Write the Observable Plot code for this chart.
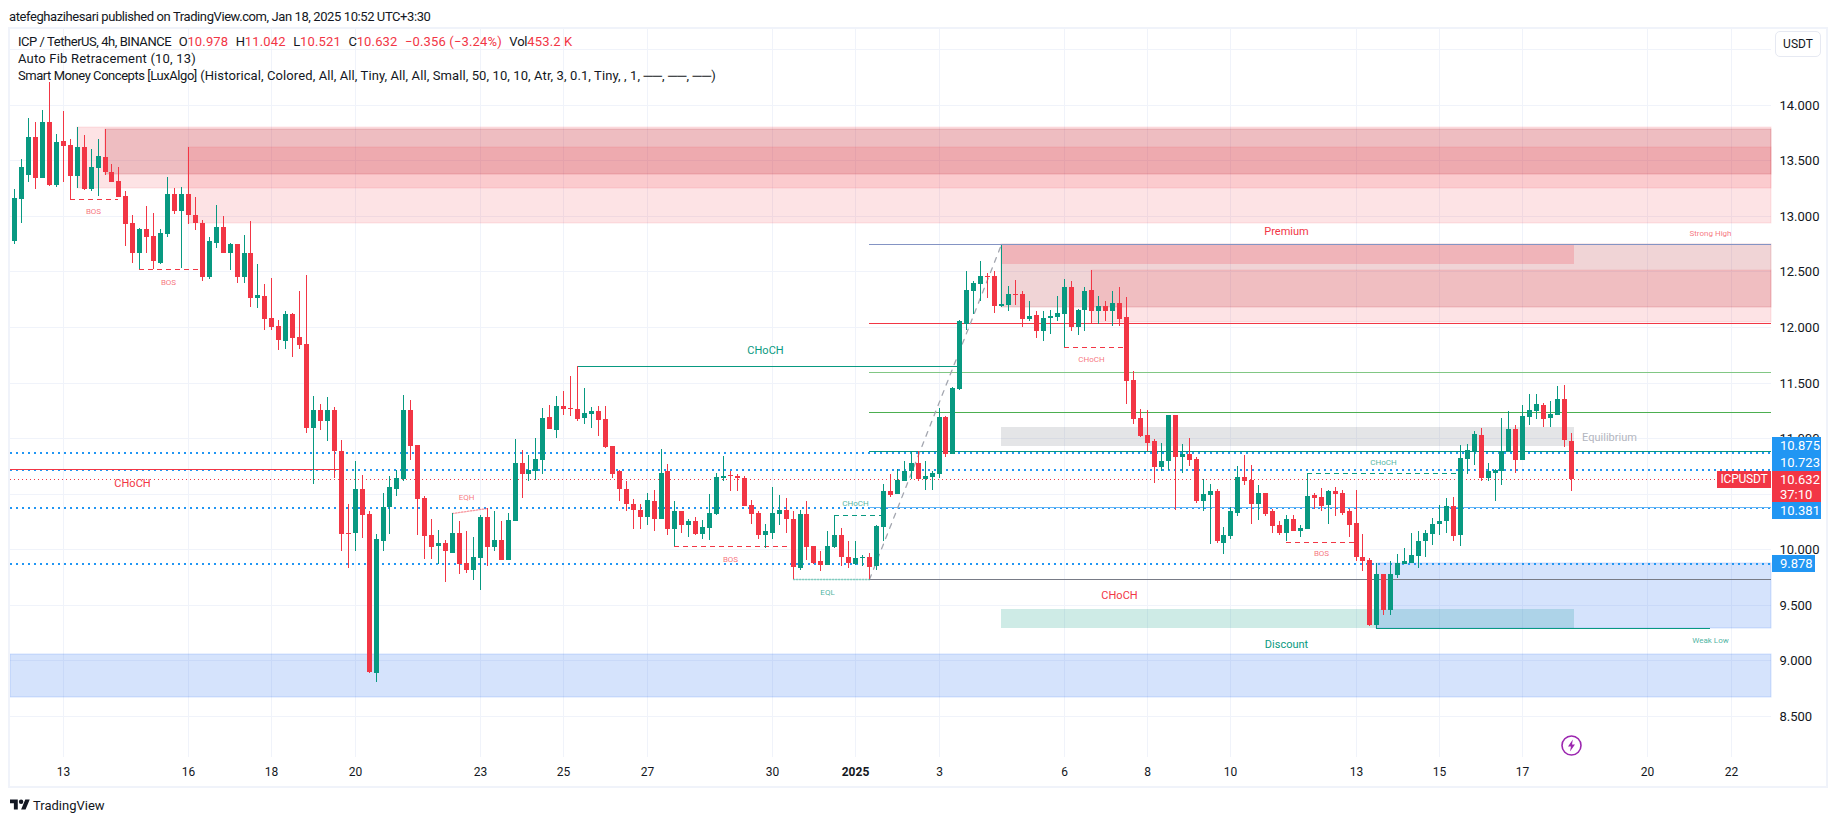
<!DOCTYPE html>
<html>
<head>
<meta charset="utf-8">
<script src="https://cdn.jsdelivr.net/npm/d3@7"></script>
<script src="https://cdn.jsdelivr.net/npm/@observablehq/plot@0.6"></script>
<style>
html,body{margin:0;padding:0;background:#fff;width:1835px;height:821px;overflow:hidden;font-family:Roboto,"Open Sans",sans-serif;color:#131722}
#head{height:27px;line-height:34px;padding-left:9px;font-size:13px;letter-spacing:-.41px;white-space:nowrap}
#wrap{position:relative;width:1835px;height:759px}
#wrap svg.plot{display:block}
#foot{height:35px;position:relative}
.frame{position:absolute;left:8px;top:0;width:1816px;height:757px;border:2px solid #f0f3fa;pointer-events:none}
.leg{position:absolute;left:18px;font-size:13px;line-height:17px;white-space:nowrap;background:transparent}
.red{color:#f23645}
.it{margin-left:7.5px;letter-spacing:-.2px}
.it b{font-weight:400;color:#f23645;letter-spacing:.15px}
.badge{position:absolute;left:1772px;width:49px;color:#fff;font-size:13px;line-height:17px;height:17px;padding-left:8px;box-sizing:border-box}
.usdt{position:absolute;left:1775px;top:4px;width:46px;height:26px;box-sizing:border-box;border:1px solid #e6e9f2;border-radius:5px;background:#fff;text-align:center;font-size:12px;line-height:24px}
</style>
</head>
<body>
<div id="head">atefeghazihesari published on TradingView.com, Jan 18, 2025 10:52 UTC+3:30</div>
<div id="wrap"></div>
<div id="foot"></div>
<script>
const opens=[12.77,13.15,13.37,13.71,13.34,13.84,13.28,13.67,13.64,13.36,
13.62,13.24,13.43,13.53,13.39,13.31,13.18,12.94,12.67,12.88,
12.82,12.58,12.84,13.20,13.04,13.20,13.01,12.94,12.45,12.76,
12.90,12.67,12.75,12.45,12.67,12.26,12.28,12.08,12.01,11.87,
12.12,11.91,11.85,11.09,11.25,11.15,11.25,10.88,10.15,10.15,
10.54,10.32,8.89,10.07,10.38,10.54,10.63,11.25,10.94,10.46,
10.13,10.03,10.06,9.97,10.15,9.88,9.81,9.92,10.29,10.02,
10.08,9.90,10.25,10.78,10.68,10.70,10.80,11.19,11.07,11.29,
11.27,11.26,11.18,11.22,11.24,11.17,10.93,10.70,10.54,10.41,
10.35,10.29,10.43,10.27,10.70,10.18,10.34,10.22,10.25,10.14,
10.19,10.32,10.64,10.67,10.66,10.64,10.40,10.33,10.13,10.15,
10.32,10.35,10.27,9.83,10.32,10.03,9.89,9.86,10.02,10.13,
9.93,9.87,9.92,9.93,9.85,10.20,10.52,10.50,10.61,10.70,
10.78,10.63,10.65,10.68,11.19,10.86,11.44,12.03,12.32,12.39,
12.46,12.46,12.19,12.20,12.30,12.30,12.07,12.11,11.96,12.08,
12.09,12.12,12.36,12.00,12.15,12.33,12.14,12.19,12.14,12.22,
12.09,11.52,11.18,11.03,10.97,10.74,10.79,11.21,10.83,10.86,
10.81,10.43,10.49,10.52,10.06,10.12,10.33,10.65,10.62,10.41,
10.51,10.34,10.22,10.15,10.27,10.16,10.18,10.49,10.47,10.40,
10.52,10.51,10.34,10.24,9.93,9.90,9.32,9.78,9.45,9.77,
9.87,9.88,9.94,10.07,10.14,10.23,10.25,10.39,10.13,10.81,
10.88,11.03,10.64,10.69,10.70,10.88,11.08,10.80,11.19,11.24,
11.30,11.18,11.21,11.35,10.978];
const closes=[13.16,13.44,13.71,13.34,13.84,13.28,13.66,13.63,13.36,13.62,
13.24,13.44,13.54,13.39,13.30,13.17,12.93,12.67,12.88,12.81,
12.59,12.85,13.20,13.04,13.20,13.01,12.94,12.45,12.77,12.90,
12.67,12.75,12.45,12.67,12.26,12.29,12.07,12.00,11.88,12.12,
11.90,11.84,11.09,11.25,11.15,11.25,10.88,10.14,10.14,10.54,
10.31,8.90,10.09,10.38,10.56,10.64,11.25,10.93,10.45,10.12,
10.02,10.06,9.98,10.15,9.87,9.81,9.93,10.29,10.02,10.08,
9.90,10.26,10.78,10.68,10.71,10.81,11.18,11.08,11.29,11.26,
11.26,11.17,11.23,11.24,11.16,10.92,10.68,10.54,10.41,10.35,
10.29,10.44,10.27,10.69,10.18,10.34,10.22,10.25,10.14,10.20,
10.33,10.65,10.66,10.66,10.64,10.39,10.32,10.13,10.16,10.33,
10.35,10.27,9.84,10.32,10.02,9.88,9.86,10.03,10.13,9.93,
9.88,9.92,9.93,9.84,10.21,10.52,10.49,10.62,10.70,10.78,
10.63,10.66,10.69,11.19,10.86,11.45,12.05,12.33,12.40,12.46,
12.45,12.19,12.21,12.30,12.29,12.07,12.10,11.96,12.08,12.10,
12.13,12.36,12.00,12.15,12.32,12.14,12.19,12.14,12.22,12.07,
11.51,11.17,11.02,10.96,10.74,10.79,11.21,10.83,10.86,10.80,
10.43,10.50,10.52,10.07,10.13,10.34,10.65,10.61,10.41,10.51,
10.32,10.21,10.15,10.27,10.16,10.19,10.48,10.46,10.39,10.52,
10.50,10.33,10.22,9.93,9.89,9.32,9.78,9.45,9.78,9.88,
9.89,9.95,10.07,10.15,10.23,10.25,10.39,10.12,10.82,10.89,
11.04,10.64,10.70,10.71,10.88,11.08,10.80,11.20,11.25,11.31,
11.17,11.22,11.35,10.98,10.632];
const highs=[13.24,13.51,13.88,13.84,13.95,14.20,13.74,13.94,13.69,13.80,
13.73,13.60,13.69,13.78,13.47,13.44,13.22,13.01,12.89,13.09,
13.03,12.88,13.35,13.25,13.26,13.62,13.17,12.96,12.81,13.10,
13.00,12.76,12.75,12.83,12.95,12.57,12.39,12.44,12.06,12.14,
12.13,12.32,12.47,11.38,11.31,11.37,11.28,10.98,10.41,10.79,
10.67,10.34,10.14,10.51,10.66,10.71,11.39,11.34,10.94,10.48,
10.27,10.17,10.08,10.33,10.25,10.16,10.11,10.31,10.37,10.34,
10.25,10.33,10.99,10.89,10.85,11.00,11.27,11.30,11.38,11.42,
11.56,11.65,11.45,11.28,11.29,11.29,10.93,10.71,10.61,10.45,
10.41,10.51,10.53,10.90,10.77,10.43,10.34,10.27,10.29,10.26,
10.50,10.69,10.84,10.70,10.68,10.66,10.44,10.34,10.23,10.56,
10.49,10.46,10.34,10.35,10.43,10.03,9.98,10.16,10.31,10.19,
10.07,10.07,9.95,9.97,10.22,10.59,10.68,10.72,10.79,10.88,
10.88,10.79,10.70,11.27,11.20,11.46,12.06,12.50,12.41,12.59,
12.49,12.50,12.74,12.37,12.42,12.32,12.23,12.14,12.14,12.15,
12.28,12.43,12.41,12.16,12.36,12.51,12.28,12.23,12.32,12.36,
12.27,11.60,11.26,11.25,10.99,10.96,11.21,11.21,10.95,11.00,
10.83,10.63,10.59,10.54,10.20,10.38,10.75,10.85,10.76,10.58,
10.51,10.36,10.25,10.31,10.31,10.22,10.69,10.51,10.55,10.53,
10.56,10.53,10.36,10.53,10.14,9.92,9.88,9.78,9.89,9.96,
10.01,10.15,10.16,10.17,10.28,10.40,10.46,10.47,10.94,10.95,
11.06,11.09,10.78,10.72,11.18,11.24,11.12,11.30,11.40,11.40,
11.32,11.33,11.47,11.48,11.042];
const lows=[12.75,12.94,13.30,13.24,13.34,13.27,13.26,13.30,13.15,13.25,
13.23,13.22,13.18,13.37,13.30,13.17,12.73,12.58,12.52,12.67,
12.52,12.57,12.81,13.02,12.53,12.93,12.87,12.41,12.43,12.71,
12.67,12.51,12.40,12.40,12.18,12.17,11.97,11.97,11.79,11.80,
11.73,11.80,11.05,10.59,11.07,10.97,10.64,9.98,9.83,9.98,
10.10,8.89,8.81,9.98,10.14,10.48,10.61,10.80,10.13,9.91,
9.91,9.87,9.71,9.97,9.78,9.79,9.72,9.63,9.85,9.98,
9.90,9.90,10.25,10.46,10.61,10.62,10.68,11.08,11.00,11.21,
11.20,11.15,11.13,11.09,11.02,10.91,10.64,10.43,10.34,10.18,
10.18,10.22,10.16,10.27,10.13,10.03,10.15,10.11,10.13,10.09,
10.08,10.31,10.61,10.52,10.52,10.39,10.23,10.09,10.01,10.09,
10.22,10.15,9.73,9.81,9.90,9.87,9.80,9.86,10.01,9.85,
9.83,9.86,9.85,9.73,9.81,10.07,10.47,10.50,10.61,10.63,
10.61,10.53,10.53,10.64,10.83,10.86,11.43,11.97,12.12,12.23,
12.26,12.13,12.18,12.14,12.20,12.00,12.05,11.90,11.87,11.94,
12.05,11.82,11.96,11.93,11.96,12.03,12.03,12.05,12.01,12.01,
11.31,11.13,11.01,10.88,10.60,10.70,10.71,10.35,10.69,10.75,
10.42,10.34,10.05,10.06,9.96,10.09,10.30,10.58,10.23,10.26,
10.30,10.15,10.13,10.07,10.16,10.11,10.18,10.36,10.34,10.23,
10.30,10.31,10.11,9.89,9.80,9.31,9.29,9.41,9.41,9.74,
9.87,9.88,9.83,9.93,10.04,10.13,10.15,10.07,10.03,10.68,
10.76,10.61,10.61,10.43,10.58,10.88,10.69,10.80,11.12,11.17,
11.10,11.10,11.21,10.92,10.521];

const gridPrices=[14.5,14,13.5,13,12.5,12,11.5,11,10.5,10,9.5,9,8.5];
const priceTicks=[14,13.5,13,12.5,12,11.5,11,10.5,10,9.5,9,8.5];
const dayBars=[7,25,37,49,67,79,91,109,133,151,163,175,193,205,217,235,247];
const dayLabels=["13","16","18","20","23","25","27","30","3","6","8","10","13","15","17","20","22"];
const yearBar=121, yearLabel="2025";
const xDomain=[-0.604,252.78], yDomain=[8.131,14.681];
const xEnd=xDomain[1], xStart=xDomain[0];

const GREEN="#089981",RED="#f23645",DOT="#2196f3";
const candles=opens.map((o,i)=>({i,open:o,close:closes[i],high:highs[i],low:lows[i]}));
const ups=candles.filter(d=>d.close>=d.open), downs=candles.filter(d=>d.close<d.open);

// order-block, premium, equilibrium, discount and demand zones
const zoneStart=[xStart,196,9,13,25,142,155,142,142,142];
const zoneEnd=[xEnd,xEnd,xEnd,xEnd,xEnd,xEnd,xEnd,224.5,224.5,224.5];
const zoneTop=[9.054,9.876,13.80,13.78,13.62,12.744,12.513,12.744,11.10,9.462];
const zoneBottom=[8.667,9.288,13.253,13.373,12.938,12.183,12.042,12.567,10.929,9.291];
const zoneKind=["demand","demand","supply","block","supply","block","supply","premium","equilibrium","discount"];
const zoneStyle={
 demand:{fill:"#2d73f0",fillOpacity:.2,stroke:"#2d73f0",strokeOpacity:.2},
 supply:{fill:RED,fillOpacity:.14,stroke:RED,strokeOpacity:.12},
 block:{fill:"#b22833",fillOpacity:.2,stroke:"#b22833",strokeOpacity:.2},
 premium:{fill:RED,fillOpacity:.2},
 equilibrium:{fill:"#787b86",fillOpacity:.2},
 discount:{fill:GREEN,fillOpacity:.2}
};
const zoneMarks=[2,3,4,5,6,9,0,1,7,8].map(k=>Plot.rect([0],{x1:zoneStart[k],x2:zoneEnd[k],y1:zoneBottom[k],y2:zoneTop[k],...zoneStyle[zoneKind[k]]}));

// full-width dotted levels
const dottedLevels=[10.875,10.723,10.381,9.878];
const lastPrice=10.632;

// Fibonacci levels from the swing start
const fibStart=123;
const fibLevels=[12.744,12.033,11.592,11.232,10.881,10.381,9.729];
const fibColors=["#8494c4",RED,"#81c784","#4caf50",GREEN,"#64b5f6","#787b86"];

// structure lines: solid and dashed
const solidY=[10.719,11.646,9.288];
const solidFrom=[xStart,81,196];
const solidTo=[47,136,244];
const solidColor=[RED,GREEN,GREEN];
const dashedY=[13.148,12.518,10.026,11.817,10.062,10.305,10.683];
const dashedFrom=[8,18,95,151,183,118,186];
const dashedTo=[15,27,112,160,193,125,208];
const dashedColor=[RED,RED,RED,RED,RED,GREEN,GREEN];

// zigzag swing and equal highs / lows
const swingBars=[123,142], swingPrices=[9.73,12.744];
const eqhBars=[63,68], eqhPrices=[10.326,10.368];
const eqlBars=[112,123], eqlPrices=[9.735,9.735];

// text labels
const labelText=["CHoCH","CHoCH","CHoCH","BOS","BOS","BOS","BOS","EQH","EQL","CHoCH","CHoCH","CHoCH","Premium","Discount","Equilibrium","Strong High","Weak Low"];
const labelBar=[17,108,159,11.4,22.2,103,188,65,117,121,155,197,183,183,229.4,244,244];
const labelPrice=[10.593,11.79,9.588,13.046,12.407,9.915,9.963,10.473,9.618,10.419,11.715,10.788,12.868,9.15,11.013,12.848,9.18];
const labelKind=["r","g","r","rs","rs","rs","rs","rs","gs","gs","rs","gs","r","g","e","rs","gs"];
const labelStyle={r:{fill:RED,fontSize:11},g:{fill:GREEN,fontSize:11},rs:{fill:RED,fontSize:8,fillOpacity:.7},gs:{fill:GREEN,fontSize:8,fillOpacity:.75},e:{fill:"#b2b5be",fontSize:11}};
const labelMarks=labelText.map((t,k)=>Plot.text([t],{x:labelBar[k],y:labelPrice[k],text:d=>d,...labelStyle[labelKind[k]]}));

const chart=Plot.plot({
 width:1835,height:759,
 marginLeft:10,marginRight:64,marginTop:2,marginBottom:29,
 style:{fontFamily:"Roboto,'Open Sans',sans-serif",background:"transparent",color:"#131722",overflow:"visible"},
 x:{domain:xDomain,round:true,axis:null},
 y:{domain:yDomain,round:true,axis:null},
 marks:[
  Plot.ruleY(gridPrices,{stroke:"#f0f3fa",strokeWidth:1}),
  Plot.ruleX([...dayBars,yearBar],{stroke:"#f0f3fa",strokeWidth:1}),
  ...zoneMarks,
  Plot.ruleY(dottedLevels,{stroke:DOT,strokeWidth:2,strokeDasharray:"2 4",dy:.5}),
  Plot.ruleY([lastPrice],{stroke:RED,strokeWidth:1,strokeDasharray:"1 3"}),
  ...fibLevels.map((v,k)=>Plot.ruleY([v],{x1:fibStart,x2:xEnd,stroke:fibColors[k],strokeWidth:1})),
  ...solidY.map((v,k)=>Plot.ruleY([v],{x1:solidFrom[k],x2:solidTo[k],stroke:solidColor[k],strokeWidth:1})),
  ...dashedY.map((v,k)=>Plot.ruleY([v],{x1:dashedFrom[k],x2:dashedTo[k],stroke:dashedColor[k],strokeWidth:1,strokeDasharray:"5 4"})),
  Plot.line(swingBars.map((b,k)=>({b,p:swingPrices[k]})),{x:"b",y:"p",stroke:"#a3a6af",strokeWidth:1.3,strokeDasharray:"5 6"}),
  Plot.line(eqhBars.map((b,k)=>({b,p:eqhPrices[k]})),{x:"b",y:"p",stroke:RED,strokeOpacity:.5,strokeWidth:1.3,strokeDasharray:"1.5 1.5"}),
  Plot.line(eqlBars.map((b,k)=>({b,p:eqlPrices[k]})),{x:"b",y:"p",stroke:GREEN,strokeOpacity:.5,strokeWidth:1.3,strokeDasharray:"1.5 1.5"}),
  Plot.ruleX(ups,{x:"i",y1:"low",y2:"high",stroke:GREEN,strokeWidth:1}),
  Plot.ruleX(downs,{x:"i",y1:"low",y2:"high",stroke:RED,strokeWidth:1}),
  Plot.ruleX(ups,{x:"i",y1:"open",y2:"close",stroke:GREEN,strokeWidth:5}),
  Plot.ruleX(downs,{x:"i",y1:"open",y2:"close",stroke:RED,strokeWidth:5}),
  ...labelMarks,
  Plot.axisY(priceTicks,{anchor:"right",tickSize:0,tickPadding:8,tickFormat:d3.format(".3f"),label:null,fontSize:13,fill:"#131722"}),
  Plot.axisX(dayBars,{anchor:"bottom",tickSize:0,tickPadding:10,tickFormat:b=>dayLabels[dayBars.indexOf(b)],label:null,fontSize:12,fill:"#131722"}),
  Plot.axisX([yearBar],{anchor:"bottom",tickSize:0,tickPadding:10,tickFormat:()=>yearLabel,label:null,fontSize:12,fontWeight:"bold",fill:"#131722"})
 ]
});
const wrap=document.getElementById("wrap");
wrap.appendChild(chart);

// chrome drawn over the pane
const html=(s)=>{const t=document.createElement("div");t.innerHTML=s;return t.firstElementChild;};
wrap.appendChild(html('<div class="frame"></div>'));
wrap.appendChild(html('<div class="usdt">USDT</div>'));
wrap.appendChild(html('<div class="leg" style="top:6px"><span style="letter-spacing:-.45px">ICP / TetherUS, 4h, BINANCE</span><span class="it">O<b>10.978</b></span><span class="it">H<b>11.042</b></span><span class="it">L<b>10.521</b></span><span class="it">C<b>10.632</b></span><span class="it"><b>−0.356 (−3.24%)</b></span><span class="it">Vol<b>453.2 K</b></span></div>'));
wrap.appendChild(html('<div class="leg" style="top:23px;letter-spacing:.2px">Auto Fib Retracement (10, 13)</div>'));
wrap.appendChild(html('<div class="leg" style="top:40px"><span style="letter-spacing:-.45px">Smart Money Concepts [LuxAlgo]</span><span style="letter-spacing:.1px"> (Historical, Colored, All, All, Tiny, All, All, Small, 50, 10, 10, Atr, 3, 0.1, Tiny, , 1, ──, ──, ──)</span></div>'));
const badges=[["10.875",410,"#2196f3"],["10.723",427,"#2196f3"],["10.632",444,RED],["37:10",461,RED],["10.381",475,"#2196f3"],["9.878",528,"#2196f3"]];
for(const [t,top,c] of badges){
 const b=html(`<div class="badge" style="top:${top}px;background:${c}">${t}</div>`);
 if(t==="9.878")b.style.width="43px";
 if(t==="37:10")b.style.height="14px",b.style.lineHeight="13px";
 wrap.appendChild(b);
}
wrap.appendChild(html(`<div style="position:absolute;left:1717px;top:444px;width:54px;height:17px;background:${RED};color:#fff;font-size:12px;letter-spacing:-.2px;line-height:17px;text-align:center">ICPUSDT</div>`));
wrap.appendChild(html('<svg style="position:absolute;left:1560px;top:707px" width="23" height="23" viewBox="0 0 23 23"><circle cx="11.5" cy="11.5" r="9.5" fill="#fff" stroke="#9c27b0" stroke-width="1.6"/><path d="M12.8 5.5 L8 12.5 H11 L10 17.5 L15 10.5 H12 Z" fill="#9c27b0"/></svg>'));
document.getElementById("foot").appendChild(html('<div style="position:absolute;left:10px;top:11px;display:flex;align-items:center;height:16px"><svg width="20" height="16" viewBox="0 0 36 28"><path d="M14 22H7V11H0V4h14v18zM28 22h-8l7.5-18h8L28 22z" fill="#131722"/><circle cx="20" cy="8" r="4" fill="#131722"/></svg><span style="margin-left:3px;font-size:13px;color:#131722">TradingView</span></div>'));
</script>
</body>
</html>
